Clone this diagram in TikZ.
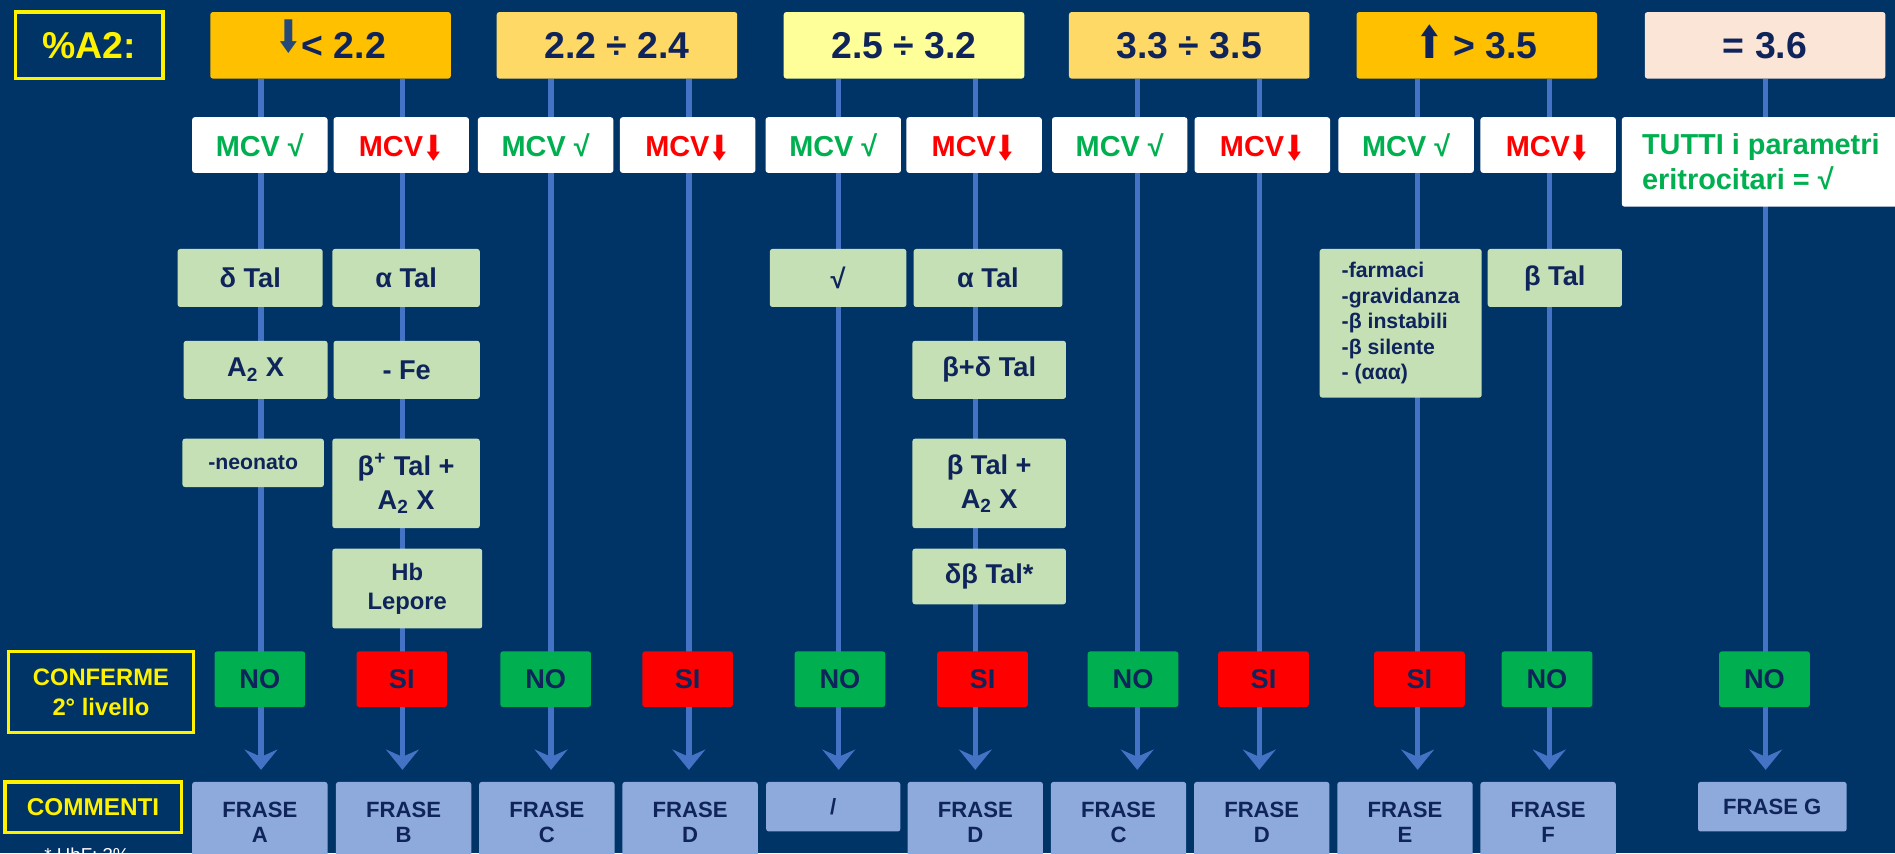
\documentclass[tikz,border=0pt]{standalone}
\usepackage{fontspec}
\setmainfont{Liberation Sans}
\newfontfamily\arrowfont{DejaVu Sans}
\usepackage{graphicx}
\usetikzlibrary{arrows.meta}
\definecolor{bgnavy}{RGB}{0,51,102}
\definecolor{txtnavy}{RGB}{15,36,90}
\definecolor{arrblue}{RGB}{38,74,120}
\definecolor{hdrorange}{HTML}{FFC000}
\definecolor{hdrgold}{HTML}{FFD966}
\definecolor{hdrpale}{HTML}{FFFF99}
\definecolor{hdrpeach}{HTML}{FBE5D6}
\definecolor{okgreen}{HTML}{00B050}
\definecolor{condgreen}{HTML}{C5E0B4}
\definecolor{frblue}{HTML}{8EA9DB}
\definecolor{lineblue}{HTML}{4472C4}
\newcommand{\arr}[2]{\smash{\raisebox{#1}{\scalebox{0.85}[1.2]{\arrowfont\bfseries #2}}}}
\pgfdeclarelayer{bg}
\pgfdeclarelayer{conn}
\pgfsetlayers{bg,conn,main}

\begin{document}
\begin{tikzpicture}[x=0.025cm, y=-0.025cm,
    sz/.style 2 args={minimum width=#1*0.025cm, minimum height=#2*0.025cm},
    box/.style={rounded corners=1.5pt, outer sep=0pt, inner sep=1pt, text=txtnavy, align=center},
    hdr/.style={box, sz={199}{55}, font=\fontsize{22}{26}\selectfont\bfseries},
    mcv/.style={box, fill=white, sz={112}{46}, font=\fontsize{17}{20.6}\selectfont\bfseries},
    cond/.style={box, fill=condgreen, font=\fontsize{16}{20}\selectfont\bfseries},
    yn/.style={box, sz={75}{46}, font=\fontsize{16}{20}\selectfont\bfseries},
    frase/.style={box, fill=frblue, font=\fontsize{13}{15}\selectfont\bfseries},
    lbl/.style={draw=yellow, line width=2pt, text=yellow, align=center, outer sep=0pt},
    conn/.style={draw=lineblue, line width=3.2pt, shorten >=0.25cm,
      -{Stealth[length=0.42cm, width=0.68cm, inset=0.15cm]}}]
  \useasboundingbox (0,0) rectangle (1568,706);
  \begin{pgfonlayer}{bg}
    \fill[bgnavy] (0,0) rectangle (1568,706);
  \end{pgfonlayer}

  \node[lbl, sz={122}{55}, font=\fontsize{22}{26}\selectfont\bfseries] (a2) at (74,37.5) {\%A2:};
  \node[hdr, fill=hdrorange] (h1) at (273.5,37.5) {\textcolor{arrblue}{\arr{0.15em}{⬇}}< 2.2};
  \node[hdr, fill=hdrgold] (h2) at (510.5,37.5) {2.2 ÷ 2.4};
  \node[hdr, fill=hdrpale] (h3) at (748,37.5) {2.5 ÷ 3.2};
  \node[hdr, fill=hdrgold] (h4) at (984,37.5) {3.3 ÷ 3.5};
  \node[hdr, fill=hdrorange] (h5) at (1222,37.5) {\arr{0em}{⬆} > 3.5};
  \node[hdr, fill=hdrpeach] (h6) at (1460.5,37.5) {= 3.6};

  \foreach \n/\x in {1/215,3/451.5,5/689.5,7/926.5,9/1163.5}
    \node[mcv, text=okgreen] (m\n) at (\x,120) {MCV √};
  \foreach \n/\x in {2/332,4/569,6/806,8/1044.5,10/1281}
    \node[mcv, text=red] (m\n) at (\x,120) {MCV\arr{-0.15em}{⬇}\vphantom{√}};
  \node[mcv, text=okgreen, sz={230}{74}, align=left] (m11) at (1457,134) {TUTTI i parametri\\eritrocitari = √};

  \node[cond, sz={120}{48}] (dtal) at (207,230) {δ Tal};
  \node[cond, sz={119}{48}] (atwo) at (211.5,306) {A\textsubscript{2} X};
  \node[cond, sz={117}{40}, font=\fontsize{12.5}{15}\selectfont\bfseries] (neo) at (209.5,383) {-neonato};
  \node[cond, sz={122}{48}] (atal) at (336,230) {α Tal};
  \node[cond, sz={121}{48}] (fe) at (336.5,306) {- Fe};
  \node[cond, sz={122}{74}] (bplus) at (336,400) {β\textsuperscript{+} Tal +\\A\textsubscript{2} X};
  \node[cond, sz={124}{66}, font=\fontsize{14}{17}\selectfont\bfseries] (lepore) at (337,487) {Hb\\Lepore};
  \node[cond, sz={113}{48}] (ok) at (693.5,230) {√};
  \node[cond, sz={123}{48}] (atalb) at (817.5,230) {α Tal};
  \node[cond, sz={127}{48}] (bdtal) at (818.5,306) {β+δ Tal};
  \node[cond, sz={127}{74}] (btwo) at (818.5,400) {β Tal +\\A\textsubscript{2} X};
  \node[cond, sz={127}{46}] (dbtal) at (818.5,477) {δβ Tal*};
  \node[cond, sz={134}{123}, align=left, font=\fontsize{12.5}{15}\selectfont\bfseries] (farm) at (1159,267.5)
    {-farmaci\\-gravidanza\\-β instabili\\-β silente\\- (ααα)};
  \node[cond, sz={111}{48}] (btal) at (1286.5,230) {β Tal};

  \node[lbl, sz={153}{67}, font=\fontsize{14}{17.7}\selectfont\bfseries] (conf) at (83.5,572.5) {CONFERME\\2° livello};
  \foreach \n/\x in {1/215,3/451.5,5/695,7/937.5,10/1280,11/1460}
    \node[yn, fill=okgreen] (y\n) at (\x,562) {NO};
  \foreach \n/\x in {2/332.5,4/569,6/813,8/1045.5,9/1174.5}
    \node[yn, fill=red] (y\n) at (\x,562) {SI};

  \node[lbl, sz={146}{42}, font=\fontsize{14.3}{17}\selectfont\bfseries] (comm) at (77,668) {COMMENTI};
  \foreach \n/\x/\t in {1/215/A,2/334/B,3/452.5/C,4/571/D,6/807/D,7/925.5/C,8/1044/D,9/1162.5/E,10/1281/F}
    \node[frase, sz={112}{67}] (f\n) at (\x,680.5) {FRASE\\\t};
  \node[frase, sz={111}{41}] (f5) at (689.5,667.5) {/};
  \node[frase, sz={123}{41}] (f11) at (1466.5,667.5) {FRASE G};
  \node[text=white, font=\fontsize{11}{13}\selectfont, anchor=base] (note) at (72,713) {* HbF: 3\%};

  \foreach \n/\x in {1/216,2/333,3/456,4/570,5/694,6/807,7/941,8/1042,9/1173,10/1282,11/1461}
    \coordinate (c\n) at (\x,0);
  \begin{pgfonlayer}{conn}
    \foreach \n/\h in {1/h1,2/h1,3/h2,4/h2,5/h3,6/h3,7/h4,8/h4,9/h5,10/h5,11/h6}
      \draw[conn] (\h.south -| c\n) -- (f\n.north -| c\n);
  \end{pgfonlayer}
\end{tikzpicture}
\end{document}
